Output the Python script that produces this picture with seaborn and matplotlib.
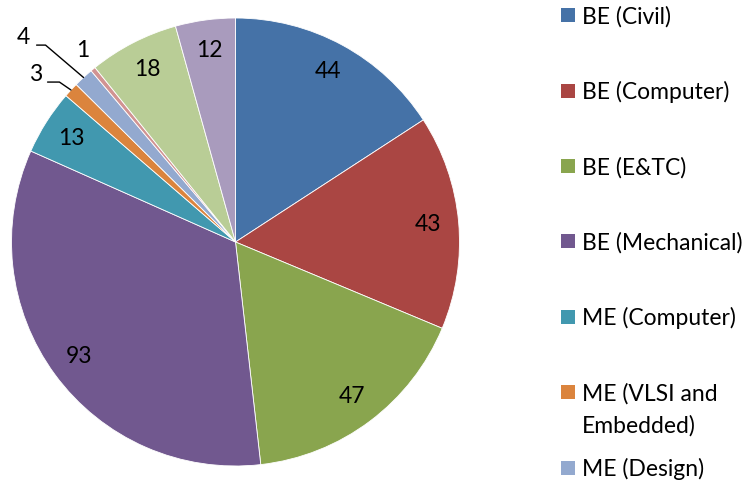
import matplotlib
matplotlib.use("Agg")
import matplotlib.pyplot as plt
import seaborn as sns
import numpy as np
from matplotlib.patches import Patch

categories = ["BE (Civil)", "BE (Computer)", "BE (E&TC)", "BE (Mechanical)",
              "ME (Computer)", "ME (VLSI and Embedded)", "ME (Design)",
              "ME (E&TC)", "ME (Mechanical)", "MBA"]
values = [44, 43, 47, 93, 13, 3, 4, 1, 18, 12]
colors = ["#4572A7", "#AA4643", "#89A54E", "#71588F", "#4198AF",
          "#DB843D", "#93A9CF", "#D19392", "#B9CD96", "#A99BBD"]
legend_labels = ["BE (Civil)", "BE (Computer)", "BE (E&TC)", "BE (Mechanical)",
                 "ME (Computer)", "ME (VLSI and", "ME (Design)"]
legend_cont = "Embedded)"

sns.set_theme(style="white")
plt.rcParams["font.family"] = ["Lato", "DejaVu Sans"]
plt.rcParams["text.color"] = "black"

W, H = 746, 483
fig = plt.figure(figsize=(W / 100, H / 100), dpi=100)
ax = fig.add_axes([11.5 / W, 17 / H, 448 / W, 448 / H])
wedges, _ = ax.pie(values, colors=colors, startangle=90, counterclock=False,
                   radius=1, wedgeprops=dict(linewidth=0.6, edgecolor="white"))
ax.set_xlim(-1, 1)
ax.set_ylim(-1, 1)
ax.set_aspect("equal")
ax.axis("off")

FS_PIE = 16.5
FS_LEG = 16.5
# outside label placements (text position, leader-line elbow points)
outside = {
    5: ((-0.893, 0.746), [(-0.839, 0.714), (-0.786, 0.714)]),
    6: ((-0.946, 0.911), [(-0.888, 0.879), (-0.848, 0.879)]),
    7: ((-0.683, 0.857), None),
}
for i, (w, v) in enumerate(zip(wedges, values)):
    mid = np.deg2rad((w.theta1 + w.theta2) / 2)
    if i in outside:
        (tx, ty), pts = outside[i]
        ax.text(tx, ty, str(v), ha="center", va="center", fontsize=FS_PIE, color="black")
        if pts:
            xs = [p[0] for p in pts] + [np.cos(mid)]
            ys = [p[1] for p in pts] + [np.sin(mid)]
            ax.plot(xs, ys, color="black", lw=1, clip_on=False)
    else:
        r = 0.865
        ax.text(r * np.cos(mid), r * np.sin(mid), str(v), ha="center", va="center",
                fontsize=FS_PIE, color="black")

handles = [Patch(facecolor=c, edgecolor="none") for c in colors[:7]]
leg = fig.legend(handles, legend_labels, loc="upper left",
                 bbox_to_anchor=(561 / W, 1 - 6 / H), bbox_transform=fig.transFigure,
                 frameon=False, fontsize=FS_LEG, handlelength=0.61, handleheight=0.57,
                 handletextpad=0.3, labelspacing=2.34, borderaxespad=0, borderpad=0,
                 labelcolor="black")
fig.canvas.draw()
bb = leg.get_texts()[5].get_window_extent()
fig.text(bb.x0 / W, (bb.y1 - 32) / H, legend_cont, ha="left", va="top",
         fontsize=FS_LEG, color="black")

fig.savefig("out.png", dpi=100)
